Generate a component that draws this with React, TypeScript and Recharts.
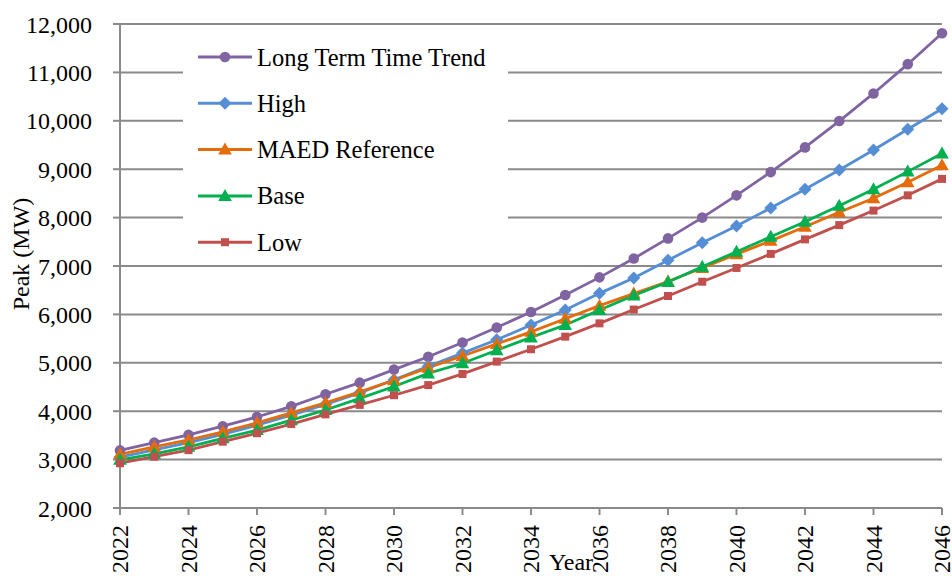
import { CartesianGrid, Legend, Line, LineChart, XAxis, YAxis } from "recharts";

const years = [
  2022, 2023, 2024, 2025, 2026, 2027, 2028, 2029, 2030, 2031, 2032, 2033, 2034, 2035, 2036, 2037, 2038, 2039, 2040,
  2041, 2042, 2043, 2044, 2045, 2046
];

const longTermTrend = [
  3190, 3350, 3510, 3690, 3880, 4100, 4350, 4590, 4860, 5125, 5420, 5730, 6050, 6400, 6765, 7155, 7570, 8000, 8460,
  8940, 9450, 9995, 10565, 11170, 11810
];
const high = [
  3050, 3200, 3350, 3520, 3710, 3920, 4140, 4380, 4650, 4930, 5200, 5475, 5780, 6090, 6435, 6750, 7120, 7480, 7825,
  8200, 8585, 8985, 9395, 9825, 10250
];
const maedReference = [
  3110, 3265, 3405, 3575, 3760, 3965, 4175, 4400, 4640, 4900, 5140, 5390, 5640, 5910, 6180, 6430, 6680, 6960, 7245,
  7520, 7810, 8110, 8400, 8730, 9080
];
const base = [
  2995, 3120, 3265, 3440, 3610, 3815, 4025, 4265, 4510, 4780, 4990, 5260, 5525, 5780, 6090, 6390, 6670, 6985, 7295,
  7605, 7915, 8245, 8585, 8950, 9325
];
const low = [
  2925, 3060, 3195, 3370, 3545, 3735, 3935, 4130, 4330, 4540, 4770, 5025, 5280, 5540, 5815, 6100, 6380, 6675, 6960,
  7250, 7550, 7845, 8145, 8460, 8800
];

const xTicks = [2022, 2024, 2026, 2028, 2030, 2032, 2034, 2036, 2038, 2040, 2042, 2044, 2046];
const yTicks = [2000, 3000, 4000, 5000, 6000, 7000, 8000, 9000, 10000, 11000, 12000];

const font = '"Liberation Serif", "Times New Roman", serif';
const gray = "#8a8a8a";

type MarkerKind = "circle" | "diamond" | "triangle" | "square";

type SeriesDef = {
  key: string;
  name: string;
  color: string;
  marker: MarkerKind;
};

const seriesList: SeriesDef[] = [
  { key: "longTerm", name: "Long Term Time Trend", color: "#8064A2", marker: "circle" },
  { key: "high", name: "High", color: "#558ED5", marker: "diamond" },
  { key: "maed", name: "MAED Reference", color: "#E46C0A", marker: "triangle" },
  { key: "base", name: "Base", color: "#00B050", marker: "triangle" },
  { key: "low", name: "Low", color: "#C0504D", marker: "square" }
];

const data = years.map((year, i) => ({
  year,
  longTerm: longTermTrend[i],
  high: high[i],
  maed: maedReference[i],
  base: base[i],
  low: low[i]
}));

function Marker({ kind, cx, cy, color }: { kind: MarkerKind; cx: number; cy: number; color: string }) {
  if (kind === "circle") return <circle cx={cx} cy={cy} r={5.3} fill={color} />;
  if (kind === "diamond") {
    return <path d={`M${cx} ${cy - 6.5}L${cx + 6.5} ${cy}L${cx} ${cy + 6.5}L${cx - 6.5} ${cy}Z`} fill={color} />;
  }
  if (kind === "triangle") {
    return <path d={`M${cx} ${cy - 7}L${cx + 6.8} ${cy + 5}L${cx - 6.8} ${cy + 5}Z`} fill={color} />;
  }
  return <rect x={cx - 4} y={cy - 4} width={8} height={8} fill={color} />;
}

function XTick({ x, y, payload }: any) {
  return (
    <text
      transform={`translate(${x},${y + 8}) rotate(-90)`}
      textAnchor="end"
      dy="0.35em"
      fontFamily={font}
      fontSize={24}
      fill="#000"
    >
      {payload.value}
    </text>
  );
}

function YearTitle({ viewBox }: any) {
  return (
    <text x={viewBox.x + viewBox.width / 2 + 40} y={viewBox.y + viewBox.height - 6} textAnchor="middle" fontFamily={font} fontSize={24} fill="#000">
      Year
    </text>
  );
}

function PeakTitle({ viewBox }: any) {
  const x = 29;
  const y = viewBox.y + viewBox.height / 2 - 12;
  return (
    <text x={x} y={y} transform={`rotate(-90 ${x} ${y})`} textAnchor="middle" fontFamily={font} fontSize={24} fill="#000">
      Peak (MW)
    </text>
  );
}

function LegendBox() {
  return (
    <svg width={325} height={230}>
      {seriesList.map((s, i) => {
        const cy = 25 + i * 46.3;
        return (
          <g key={s.key}>
            <line x1={15} x2={69} y1={cy} y2={cy} stroke={s.color} strokeWidth={3} />
            <Marker kind={s.marker} cx={42} cy={cy} color={s.color} />
            <text x={74} y={cy} dy="0.35em" fontFamily={font} fontSize={24.5} fill="#000">
              {s.name}
            </text>
          </g>
        );
      })}
    </svg>
  );
}

export default function App() {
  return (
    <div style={{ width: 952, height: 576, background: "#fff" }}>
      <style>{"body{margin:0}"}</style>
      <LineChart width={952} height={576} data={data} margin={{ top: 24, right: 10, left: 0, bottom: 0 }}>
        <CartesianGrid vertical={false} stroke={gray} strokeWidth={2} />
        <XAxis
          dataKey="year"
          type="number"
          domain={[2022, 2046]}
          ticks={xTicks}
          interval={0}
          height={68}
          tickSize={7}
          axisLine={{ stroke: gray, strokeWidth: 2 }}
          tickLine={{ stroke: gray, strokeWidth: 2 }}
          tick={<XTick />}
          label={<YearTitle />}
        />
        <YAxis
          domain={[2000, 12000]}
          ticks={yTicks}
          interval={0}
          width={120}
          tickSize={7}
          tickMargin={21}
          axisLine={{ stroke: gray, strokeWidth: 2 }}
          tickLine={{ stroke: gray, strokeWidth: 2 }}
          tick={{ fontFamily: font, fontSize: 24, fill: "#000" }}
          tickFormatter={(v: number) => v.toLocaleString("en-US")}
          label={<PeakTitle />}
        />
        <Legend
          layout="horizontal"
          verticalAlign="middle"
          align="center"
          content={() => <LegendBox />}
          wrapperStyle={{ left: 183, top: 32, width: 325, height: 230, background: "#fff" }}
        />
        {seriesList.map((s) => (
          <Line
            key={s.key}
            type="linear"
            dataKey={s.key}
            name={s.name}
            stroke={s.color}
            strokeWidth={2.8}
            isAnimationActive={false}
            dot={(props: any) => (
              <Marker key={`${s.key}-${props.index}`} kind={s.marker} cx={props.cx} cy={props.cy} color={s.color} />
            )}
            activeDot={false}
          />
        ))}
      </LineChart>
    </div>
  );
}
